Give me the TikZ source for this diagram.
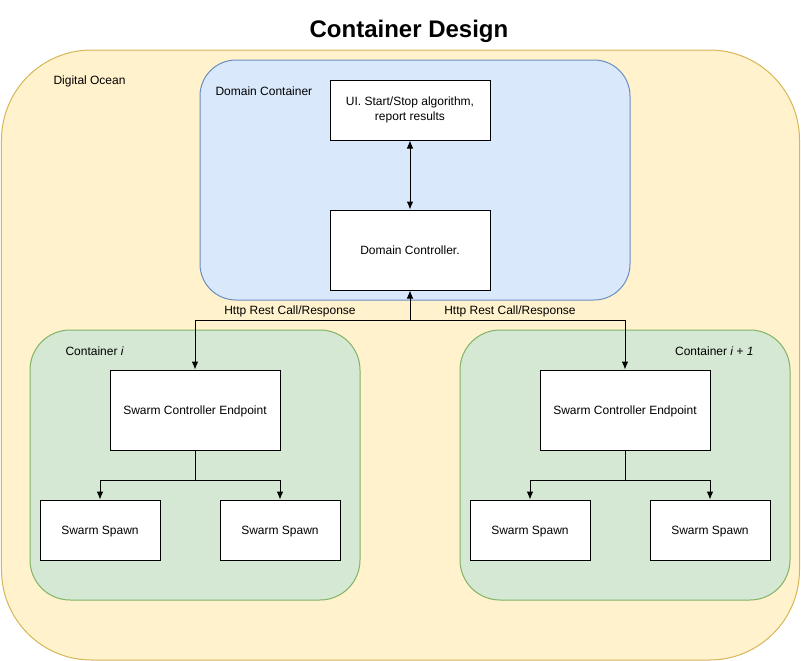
\documentclass[tikz,border=0pt]{standalone}
\usepackage{fontspec}
\setmainfont{Liberation Sans}
\usetikzlibrary{arrows.meta}

\definecolor{oceanfill}{HTML}{FFF2CC}
\definecolor{oceanline}{HTML}{D6B656}
\definecolor{domainfill}{HTML}{DAE8FC}
\definecolor{domainline}{HTML}{6C8EBF}
\definecolor{podfill}{HTML}{D5E8D4}
\definecolor{podline}{HTML}{82B366}

\begin{document}
\begin{tikzpicture}[
            x=0.75pt,y=-0.75pt,line width=0.75pt,
            font=\fontsize{9}{11}\selectfont,
            area node/.style={rectangle,draw,inner sep=0pt},
            box node/.style={rectangle,draw,fill=white,align=center,inner sep=0pt},
            spawn node/.style={box node,minimum width=90pt,minimum height=45pt,text depth=0pt},
            label node/.style={inner sep=0pt},
            link/.style={draw,-{Latex[length=6pt,width=5pt]}},
        ]
            \useasboundingbox (0,0) rectangle (801,661);

            % areas
            \node[area node,fill=oceanfill,draw=oceanline,rounded corners=67.5pt,
                minimum width=598.5pt,minimum height=457.5pt] (ocean) at (400.5,355) {};
            \node[area node,fill=domainfill,draw=domainline,rounded corners=27pt,
                minimum width=322.5pt,minimum height=180pt] (domain) at (415,180) {};
            \node[area node,fill=podfill,draw=podline,rounded corners=30pt,
                minimum width=247.5pt,minimum height=202.5pt] (podA) at (195,465) {};
            \node[area node,fill=podfill,draw=podline,rounded corners=30pt,
                minimum width=247.5pt,minimum height=202.5pt] (podB) at (625,465) {};

            \node[font=\fontsize{18}{22}\selectfont\bfseries] (title) at (409,31) {Container Design};
            \node[label node,anchor=west] (oceanlabel) at (53,81) {Digital Ocean};
            \node[label node,anchor=west] (domainlabel) at (215,91) {Domain Container};
            \node[label node,anchor=west] (podAlabel) at (65,351) {Container \textit{i}};
            \node[label node,anchor=east] (podBlabel) at (754,351) {Container \textit{i + 1}};

            % boxes
            \node[box node,minimum width=120pt,minimum height=45pt] (ui) at (410,110)
                {UI. Start/Stop algorithm,\\report results};
            \node[box node,minimum width=120pt,minimum height=60pt,text depth=0pt] (dc) at (410,250) {Domain Controller.};
            \node[box node,minimum width=127.5pt,minimum height=60pt,text depth=0pt] (sceA) at (195,410) {Swarm Controller Endpoint};
            \node[box node,minimum width=127.5pt,minimum height=60pt,text depth=0pt] (sceB) at (625,410) {Swarm Controller Endpoint};
            \node[spawn node] (spawnA1) at (100,530) {Swarm Spawn};
            \node[spawn node] (spawnA2) at (280,530) {Swarm Spawn};
            \node[spawn node] (spawnB1) at (530,530) {Swarm Spawn};
            \node[spawn node] (spawnB2) at (710,530) {Swarm Spawn};

            % connectors
            \draw[link,{Latex[length=6pt,width=5pt]}-{Latex[length=6pt,width=5pt]}] (ui) -- (dc);

            \coordinate (split) at (410,320);
            \draw[link] (split) -- (dc);
            \draw[link] (split) -| (sceA);
            \draw[link] (split) -| (sceB);
            \node[label node] (httpA) at (290,311) {Http Rest Call/Response};
            \node[label node] (httpB) at (510,311) {Http Rest Call/Response};

            \coordinate (forkA) at (195,480);
            \coordinate (forkB) at (625,480);
            \draw[link] (sceA) -- (forkA) -| (spawnA1);
            \draw[link] (forkA) -| (spawnA2);
            \draw[link] (sceB) -- (forkB) -| (spawnB1);
            \draw[link] (forkB) -| (spawnB2);
        \end{tikzpicture}
\end{document}
